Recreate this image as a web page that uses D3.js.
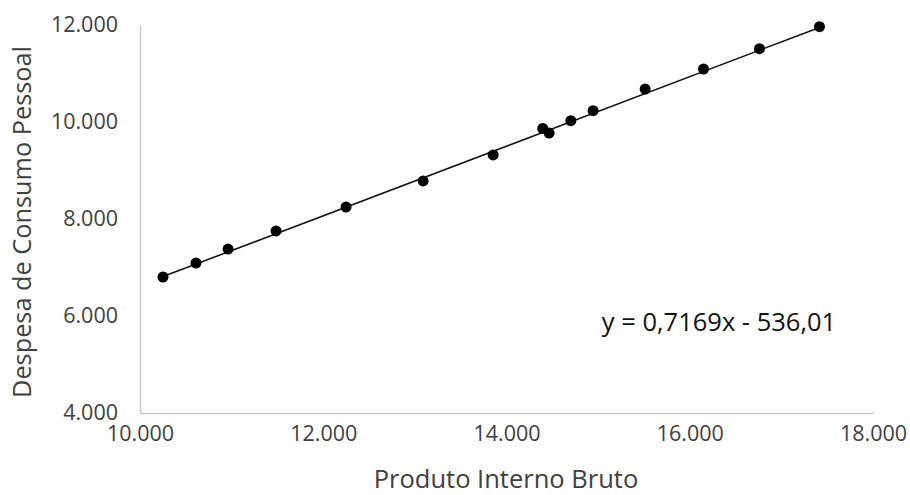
<!DOCTYPE html>
<html>
<head>
<meta charset="utf-8">
<script src="https://cdn.jsdelivr.net/npm/d3@7"></script>
<style>
  html, body { margin: 0; padding: 0; background: #fff; }
  #stage { width: 910px; height: 495px; }
</style>
</head>
<body>
<div id="stage"></div>
<script>
// PIB (x) e despesa de consumo pessoal (y)
const pib = [10251, 10611, 10961, 11485, 12249, 13090, 13854, 14396, 14465, 14702, 14945, 15513, 16150, 16761, 17416];
const consumo = [6804, 7093, 7381, 7753, 8247, 8784, 9320, 9866, 9773, 10027, 10233, 10680, 11093, 11511, 11965];
const xTicks = [10000, 12000, 14000, 16000, 18000];
const yTicks = [4000, 6000, 8000, 10000, 12000];
const slope = 0.7169;
const intercept = -536.01;
const equationLabel = "y = 0,7169x - 536,01";

const stage = d3.select("#stage");
const width = 910;
const height = 495;

const svg = stage
  .append("svg")
  .attr("width", width)
  .attr("height", height)
  .attr("viewBox", `0 0 ${width} ${height}`);

const x = d3.scaleLinear().domain([10000, 18000]).range([140, 873]);
const y = d3.scaleLinear().domain([4000, 12000]).range([413, 25]);

const fmt = d3.formatLocale({ decimal: ",", thousands: ".", grouping: [3], currency: ["R$", ""] }).format(",.0f");

const font = "'Open Sans', sans-serif";
const textColor = "#404040";

// eixo y
const yAxis = svg
  .append("g")
  .attr("transform", `translate(${x.range()[0]},0)`)
  .call(d3.axisLeft(y).tickValues(yTicks).tickSize(0).tickPadding(22).tickFormat(fmt));
yAxis.select(".domain").attr("stroke", "#c8c8c8").attr("stroke-width", 1.5);
yAxis.selectAll("text")
  .attr("font-family", font)
  .attr("font-size", "21.5px")
  .attr("fill", textColor);

// eixo x
const xAxis = svg
  .append("g")
  .attr("transform", `translate(0,${y.range()[0]})`)
  .call(d3.axisBottom(x).tickValues(xTicks).tickSize(0).tickPadding(13).tickFormat(fmt));
xAxis.select(".domain").attr("stroke", "#c8c8c8").attr("stroke-width", 1.5);
xAxis.selectAll("text")
  .attr("font-family", font)
  .attr("font-size", "21.5px")
  .attr("fill", textColor);

// linha de tendência
const [xMin, xMax] = d3.extent(pib);
svg
  .append("line")
  .attr("x1", x(xMin))
  .attr("y1", y(slope * xMin + intercept))
  .attr("x2", x(xMax))
  .attr("y2", y(slope * xMax + intercept))
  .attr("stroke", "#111")
  .attr("stroke-width", 1.6);

// pontos
svg
  .append("g")
  .selectAll("circle")
  .data(pib)
  .join("circle")
  .attr("cx", (d) => x(d))
  .attr("cy", (d, i) => y(consumo[i]))
  .attr("r", 5.5)
  .attr("fill", "#000");

// equação
svg
  .append("text")
  .attr("x", 719)
  .attr("y", 331)
  .attr("text-anchor", "middle")
  .attr("font-family", font)
  .attr("font-size", "25.5px")
  .attr("fill", "#111")
  .text(equationLabel);

// títulos dos eixos
svg
  .append("text")
  .attr("x", 506)
  .attr("y", 488)
  .attr("text-anchor", "middle")
  .attr("font-family", font)
  .attr("font-size", "25.5px")
  .attr("fill", textColor)
  .text("Produto Interno Bruto");

svg
  .append("text")
  .attr("transform", "translate(31,222) rotate(-90)")
  .attr("text-anchor", "middle")
  .attr("font-family", font)
  .attr("font-size", "25.3px")
  .attr("fill", textColor)
  .text("Despesa de Consumo Pessoal");
</script>
</body>
</html>
